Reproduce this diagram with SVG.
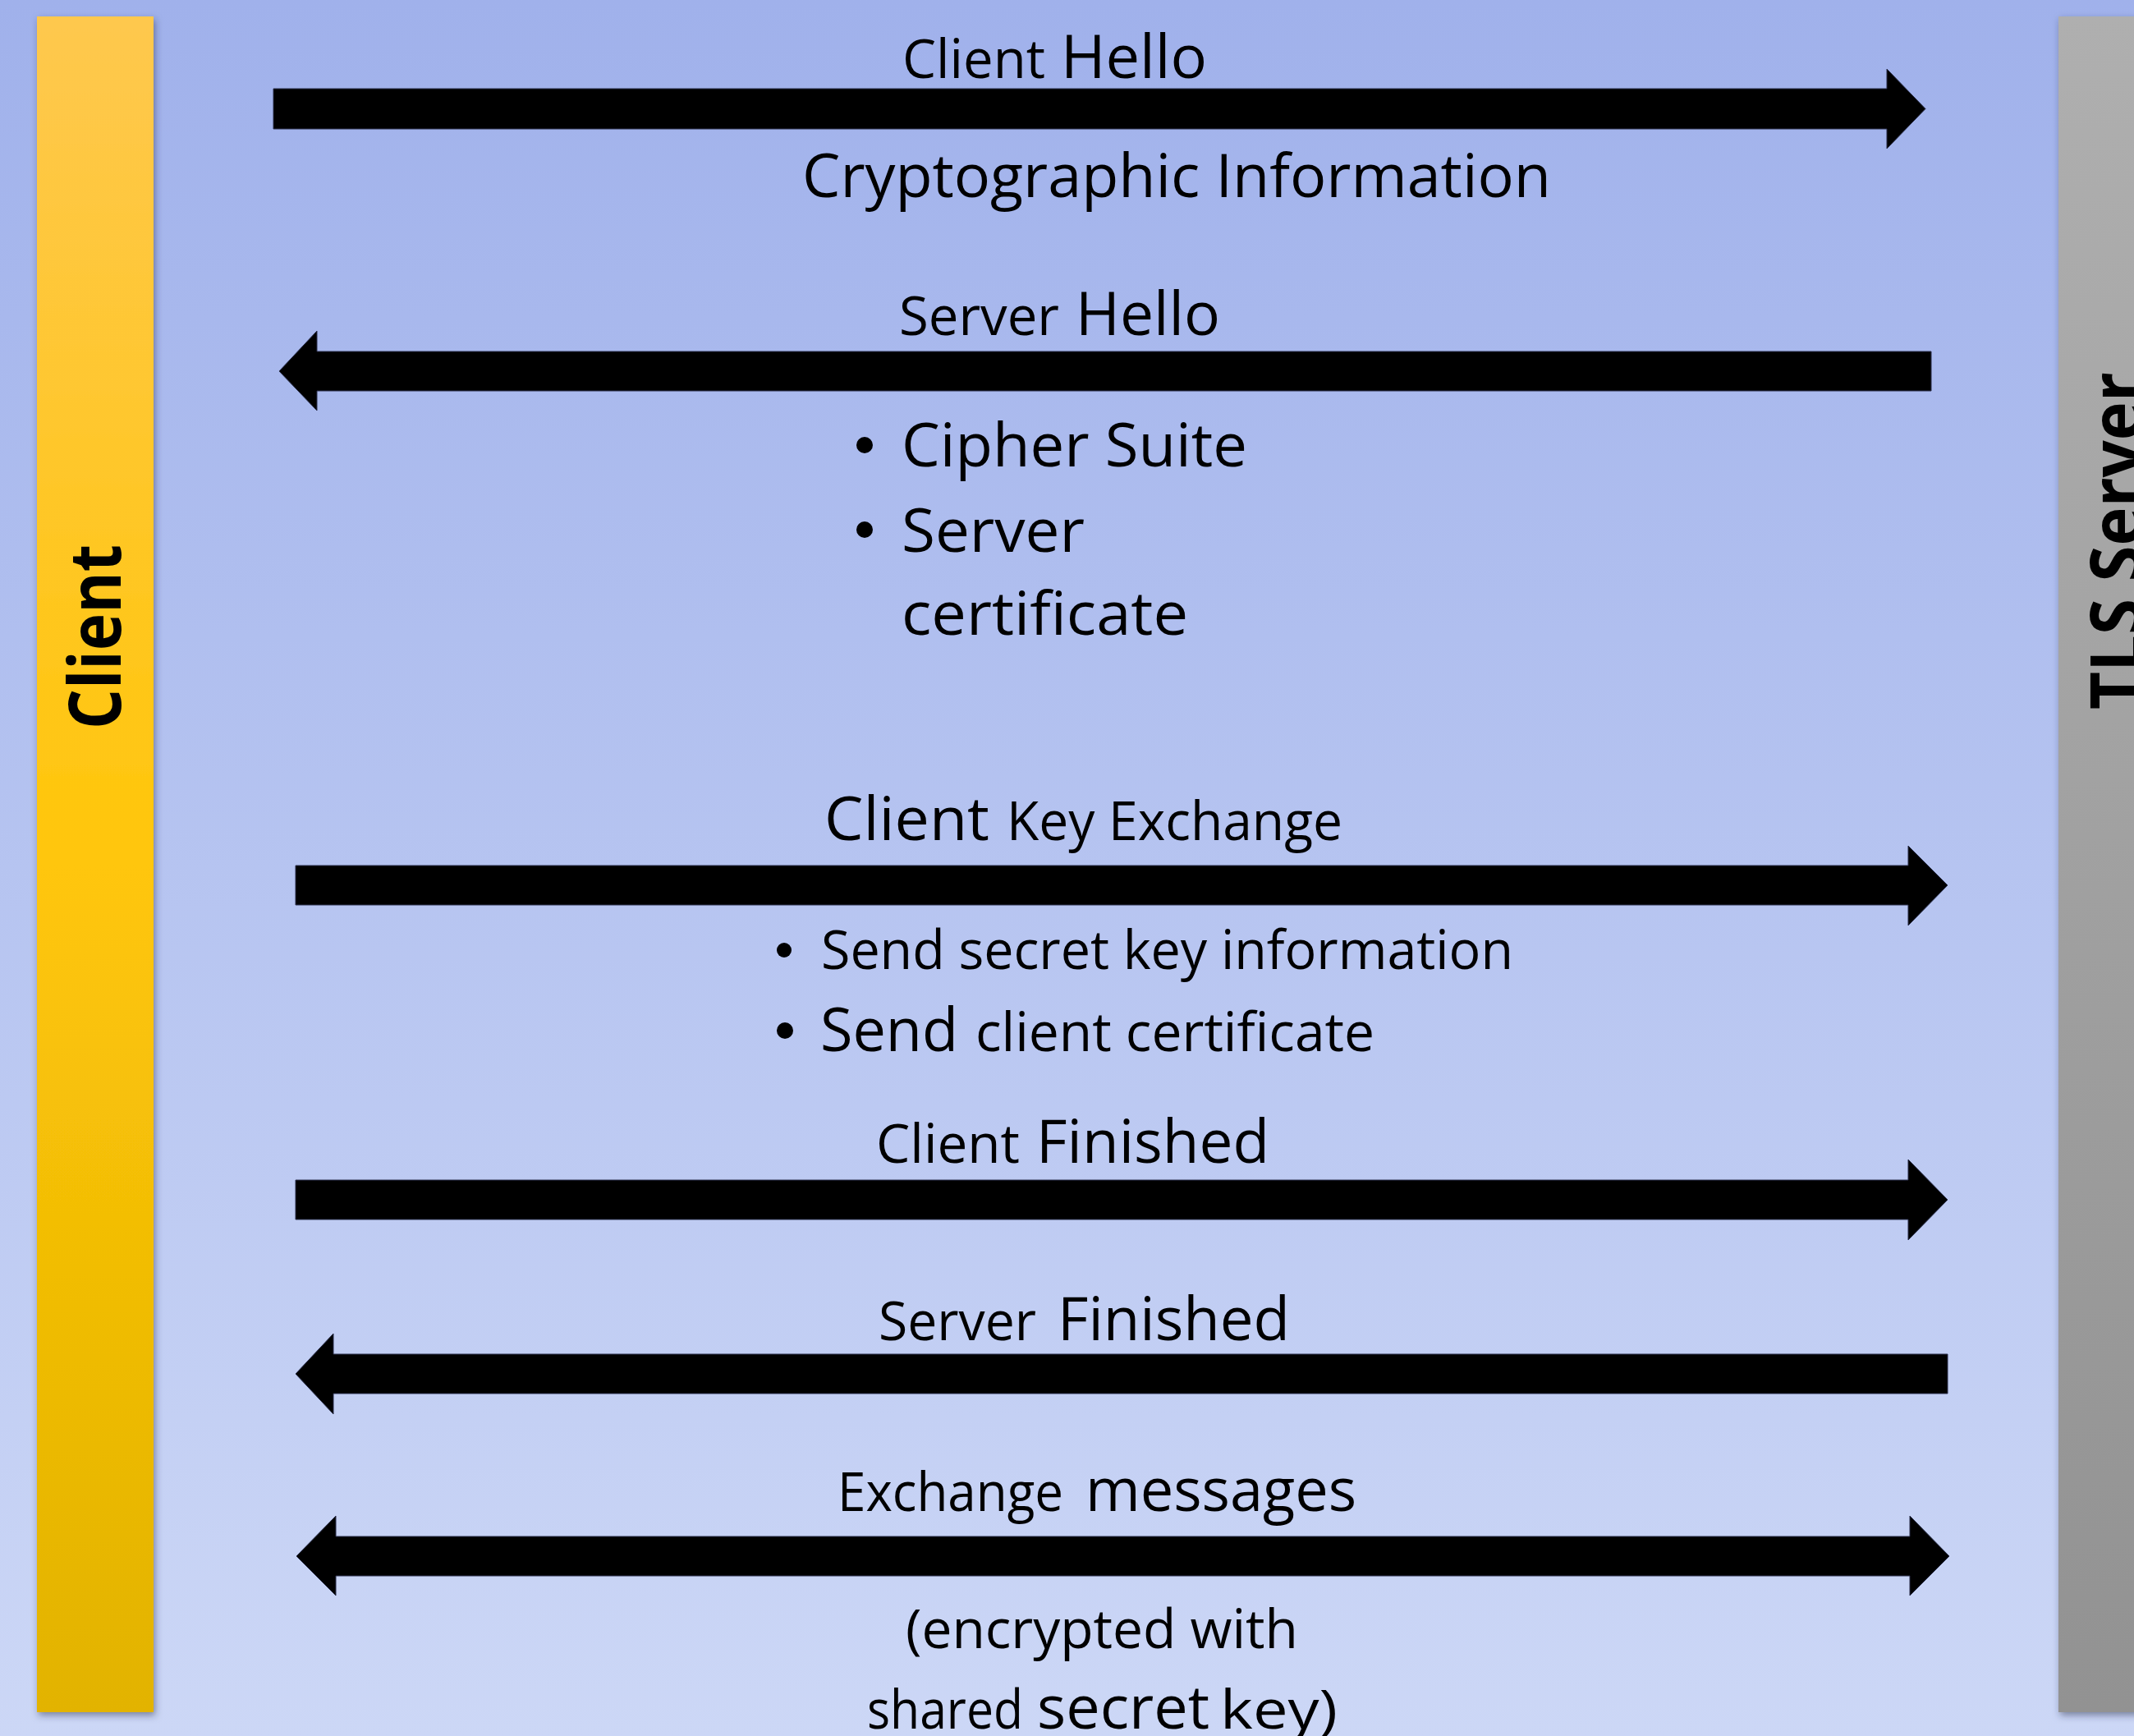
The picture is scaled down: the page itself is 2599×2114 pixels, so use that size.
<svg xmlns="http://www.w3.org/2000/svg" width="2599" height="2114" viewBox="0 0 2599 2114">
  <defs>
    <linearGradient id="bg" x1="0" y1="0" x2="0" y2="1">
      <stop offset="0" stop-color="#a0b1eb"/>
      <stop offset="1" stop-color="#ccd7f6"/>
    </linearGradient>
    <linearGradient id="gold" x1="0" y1="0" x2="0" y2="1">
      <stop offset="0" stop-color="#fec84e"/>
      <stop offset="0.5" stop-color="#ffc60a"/>
      <stop offset="1" stop-color="#e2b300"/>
    </linearGradient>
    <linearGradient id="gray" x1="0" y1="0" x2="0" y2="1">
      <stop offset="0" stop-color="#afafaf"/>
      <stop offset="1" stop-color="#929292"/>
    </linearGradient>
    <filter id="shadow" x="-20%" y="-5%" width="140%" height="110%">
      <feDropShadow dx="2" dy="4" stdDeviation="4" flood-color="#2a3050" flood-opacity="0.5"/>
    </filter>
    <style>
      .t { font-family: "Open Sans", "Liberation Sans", sans-serif; fill: #000; }
      .s { font-size: 65px; }
      .l { font-size: 74px; }
      .lane { font-family: "Open Sans", "Liberation Sans", sans-serif; font-weight: bold; font-size: 87px; fill: #000; }
      .arrow { fill: #000; stroke: #2a2f4a; stroke-width: 1; }
    </style>
  </defs>

  <rect x="0" y="0" width="2599" height="2114" fill="url(#bg)"/>

  <g id="client">
    <rect x="45" y="20" width="142" height="2065" fill="url(#gold)" filter="url(#shadow)"/>
    <text class="lane" transform="translate(147,888) rotate(-90)" textLength="225" lengthAdjust="spacingAndGlyphs">Client</text>
  </g>

  <g id="server">
    <rect x="2507" y="20" width="120" height="2065" fill="url(#gray)" filter="url(#shadow)"/>
    <text class="lane" transform="translate(2609,864) rotate(-90)" textLength="411" lengthAdjust="spacingAndGlyphs">TLS Server</text>
  </g>

  <g id="connectors">
    <!-- Client Hello -->
    <path class="arrow" d="M333,108 H2298 V84 L2345,132.5 L2298,181 V157 H333 Z"/>
    <!-- Server Hello -->
    <path class="arrow" d="M2352,428 H386 V403 L340,452 L386,500 V476 H2352 Z"/>
    <!-- Client Key Exchange -->
    <path class="arrow" d="M360,1054 H2324 V1030 L2372,1078 L2324,1127 V1102 H360 Z"/>
    <!-- Client Finished -->
    <path class="arrow" d="M360,1437 H2324 V1412 L2372,1461 L2324,1510 V1485 H360 Z"/>
    <!-- Server Finished -->
    <path class="arrow" d="M2372,1649 H406 V1624 L360,1673 L406,1722 V1697 H2372 Z"/>
    <!-- Exchange messages -->
    <path class="arrow" d="M409,1871 H2326 V1846 L2374,1895 L2326,1943 V1919 H409 V1943 L361,1895 L409,1846 Z"/>
  </g>

  <g id="labels" class="t">
    <text y="95"><tspan class="s" x="1099" textLength="174" lengthAdjust="spacingAndGlyphs">Client</tspan><tspan class="l" x="1292" textLength="178" lengthAdjust="spacingAndGlyphs">Hello</tspan></text>
    <text class="l" x="977" y="240" textLength="912" lengthAdjust="spacingAndGlyphs">Cryptographic Information</text>

    <text y="408"><tspan class="s" x="1095" textLength="195" lengthAdjust="spacingAndGlyphs">Server</tspan><tspan class="l" x="1310" textLength="176" lengthAdjust="spacingAndGlyphs">Hello</tspan></text>
    <circle cx="1053" cy="542" r="10"/>
    <text class="l" x="1098" y="568" textLength="421" lengthAdjust="spacingAndGlyphs">Cipher Suite</text>
    <circle cx="1053" cy="645" r="10"/>
    <text class="l" x="1098" y="672" textLength="223" lengthAdjust="spacingAndGlyphs">Server</text>
    <text class="l" x="1098" y="773" textLength="349" lengthAdjust="spacingAndGlyphs">certificate</text>

    <text y="1023"><tspan class="l" x="1004" textLength="201" lengthAdjust="spacingAndGlyphs">Client</tspan><tspan class="s" x="1226" textLength="409" lengthAdjust="spacingAndGlyphs">Key Exchange</tspan></text>
    <circle cx="955" cy="1157" r="9"/>
    <text class="s" x="1000" y="1180" textLength="843" lengthAdjust="spacingAndGlyphs">Send secret key information</text>
    <circle cx="956" cy="1255" r="10"/>
    <text y="1280"><tspan class="l" x="999" textLength="168" lengthAdjust="spacingAndGlyphs">Send</tspan><tspan class="s" x="1188" textLength="486" lengthAdjust="spacingAndGlyphs">client certificate</tspan></text>

    <text y="1416"><tspan class="s" x="1067" textLength="175" lengthAdjust="spacingAndGlyphs">Client</tspan><tspan class="l" x="1262" textLength="284" lengthAdjust="spacingAndGlyphs">Finished</tspan></text>
    <text y="1632"><tspan class="s" x="1070" textLength="192" lengthAdjust="spacingAndGlyphs">Server</tspan><tspan class="l" x="1288" textLength="283" lengthAdjust="spacingAndGlyphs">Finished</tspan></text>

    <text y="1840"><tspan class="s" x="1020" textLength="275" lengthAdjust="spacingAndGlyphs">Exchange</tspan><tspan class="l" x="1322" textLength="330" lengthAdjust="spacingAndGlyphs">messages</tspan></text>
    <text class="s" x="1103" y="2007" textLength="478" lengthAdjust="spacingAndGlyphs">(encrypted with</text>
    <text y="2105"><tspan class="s" x="1056" textLength="190" lengthAdjust="spacingAndGlyphs">shared</tspan><tspan class="l" x="1263" textLength="210" lengthAdjust="spacingAndGlyphs">secret</tspan><tspan class="s" x="1486" textLength="143" lengthAdjust="spacingAndGlyphs">key)</tspan></text>
  </g>
</svg>
